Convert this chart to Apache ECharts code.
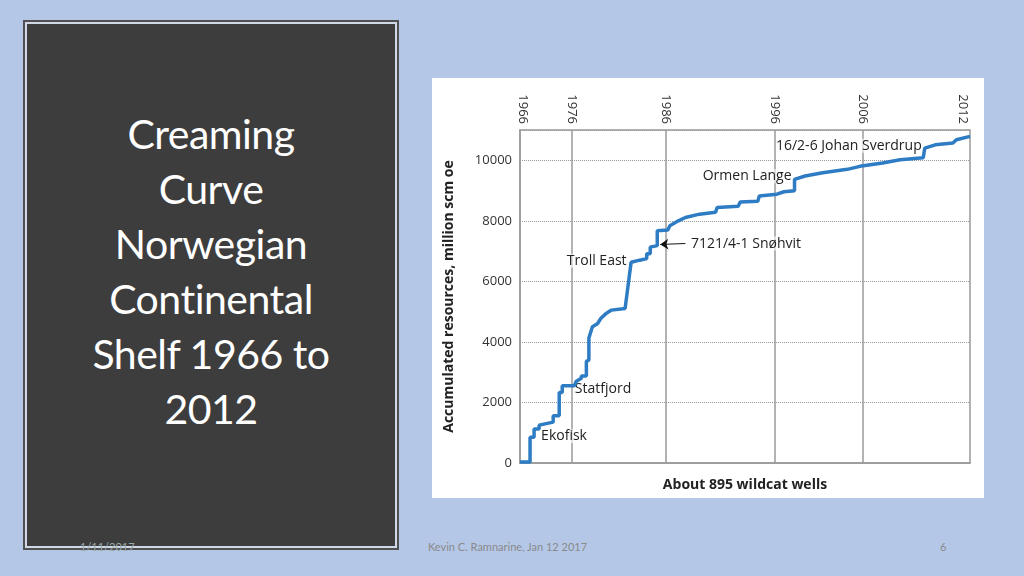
<!DOCTYPE html>
<html>
<head>
<meta charset="utf-8">
<script src="https://cdn.jsdelivr.net/npm/echarts@6/dist/echarts.min.js"></script>
<style>
  body { margin: 0; width: 1024px; height: 576px; background: #b4c7e7; position: relative; overflow: hidden; font-family: Lato, "Open Sans", sans-serif; }
  #box { position: absolute; left: 25px; top: 22px; width: 368px; height: 522px; background: #3d3d3d; border: 2px solid #d0d8e8; outline: 2px solid #505050; }
  #title { position: absolute; left: 0; right: 0; top: 82px; text-align: center; color: #fff; font-size: 41px; line-height: 55px; letter-spacing: -0.5px; }
  #chart { position: absolute; left: 432px; top: 78px; width: 552px; height: 420px; background: #fff; }
  .foot { position: absolute; top: 540px; font-size: 11px; color: #8a8a8a; }
</style>
</head>
<body>
<div id="box"><div id="title">Creaming<br>Curve<br>Norwegian<br>Continental<br>Shelf 1966 to<br>2012</div></div>
<div id="chart"></div>
<div class="foot" style="left:80px;color:#9aa">1/11/2017</div>
<div class="foot" style="left:428px">Kevin C. Ramnarine, Jan 12 2017</div>
<div class="foot" style="left:940px">6</div>
<script>
// well number (x) and accumulated resources (y) along the creaming curve
const wells = [0, 20, 20, 28, 28, 38, 38, 52, 52, 66, 66, 78, 78, 84, 84, 108, 112, 122, 122, 132, 132, 137, 137, 144, 154, 161, 172, 182, 209, 209, 221, 238, 252, 252, 259, 259, 273, 273, 294, 298, 315, 329, 357, 389, 392, 434, 438, 473, 476, 511, 525, 546, 546, 567, 602, 651, 676, 721, 756, 802, 805, 826, 861, 868, 895];
const values = [30, 30, 850, 850, 1120, 1120, 1250, 1300, 1350, 1350, 1560, 1560, 2330, 2330, 2550, 2550, 2700, 2800, 2870, 2870, 3360, 3400, 4130, 4500, 4600, 4780, 4950, 5050, 5100, 5100, 6630, 6700, 6750, 6910, 6910, 7130, 7180, 7670, 7700, 7840, 8000, 8110, 8220, 8280, 8440, 8480, 8620, 8650, 8820, 8880, 8960, 8990, 9370, 9480, 9590, 9700, 9800, 9910, 10020, 10080, 10400, 10510, 10570, 10680, 10790];
const years = ['1966', '1976', '1986', '1996', '2006', '2012'];
const yearWells = [5, 103, 289, 506, 681, 880];
const gridYearWells = [103, 289, 506, 681];
const yTicks = [0, 2000, 4000, 6000, 8000, 10000];
const notes = [
  { name: 'Ekofisk', well: 42, value: 880, align: 'left' },
  { name: 'Statfjord', well: 109, value: 2430, align: 'left' },
  { name: 'Troll East', well: 212, value: 6680, align: 'right' },
  { name: '7121/4-1 Snøhvit', well: 340, value: 7250, align: 'left' },
  { name: 'Ormen Lange', well: 540, value: 9470, align: 'right' },
  { name: '16/2-6 Johan Sverdrup', well: 799, value: 10480, align: 'right' }
];

const chart = echarts.init(document.getElementById('chart'));
const axisGray = '#9a9a9a';
chart.setOption({
  animation: false,
  grid: { left: 88, right: 14, top: 52, bottom: 35, show: true, borderColor: axisGray, borderWidth: 1.5 },
  xAxis: [
    { type: 'value', min: 0, max: 895, position: 'bottom',
      axisLabel: { show: false }, axisTick: { show: false }, splitLine: { show: false },
      axisLine: { lineStyle: { color: axisGray, width: 1.5 } },
      name: 'About 895 wildcat wells', nameLocation: 'middle', nameGap: 15,
      nameTextStyle: { fontFamily: 'Open Sans', fontWeight: 'bold', fontSize: 14, color: '#222' } },
    { type: 'value', min: 0, max: 895, position: 'top',
      axisLine: { show: false }, axisTick: { show: false }, splitLine: { show: false },
      axisLabel: { customValues: yearWells, rotate: 90, color: '#333', fontSize: 13, fontFamily: 'Open Sans', margin: 6,
        formatter: v => years[yearWells.indexOf(v)] } }
  ],
  yAxis: {
    type: 'value', min: 0, max: 11000,
    axisLine: { show: true, lineStyle: { color: axisGray, width: 1.5 } }, axisTick: { show: false },
    axisLabel: { customValues: yTicks, color: '#333', fontSize: 13, fontFamily: 'Open Sans', margin: 8, formatter: v => String(v) },
    splitLine: { customValues: yTicks, lineStyle: { color: '#999', type: 'dotted' } },
    name: 'Accumulated resources, million scm oe', nameLocation: 'middle', nameGap: 64,
    nameTextStyle: { fontFamily: 'Open Sans', fontWeight: 'bold', fontSize: 14, color: '#222' }
  },
  series: [{
    type: 'line',
    data: wells.map((w, i) => [w, values[i]]),
    showSymbol: false,
    lineStyle: { color: '#2e7cc4', width: 3.5 },
    z: 5,
    markLine: {
      silent: true, symbol: 'none', label: { show: false },
      lineStyle: { color: axisGray, type: 'solid', width: 1.5 },
      data: gridYearWells.map(w => ({ xAxis: w })).concat([[
        { coord: [329, 7250], symbol: 'none', lineStyle: { color: '#111', width: 1 } },
        { coord: [279, 7220], symbol: 'arrow', symbolSize: 8, lineStyle: { color: '#111', width: 1 } }
      ]])
    },
    markPoint: {
      symbol: 'circle', symbolSize: 0,
      data: notes.map(n => ({
        coord: [n.well, n.value],
        label: { show: true, formatter: n.name, position: 'inside', align: n.align,
          color: '#222', fontSize: 14, fontFamily: 'Open Sans', backgroundColor: 'rgba(255,255,255,0.6)' }
      }))
    }
  }]
});
</script>
</body>
</html>
